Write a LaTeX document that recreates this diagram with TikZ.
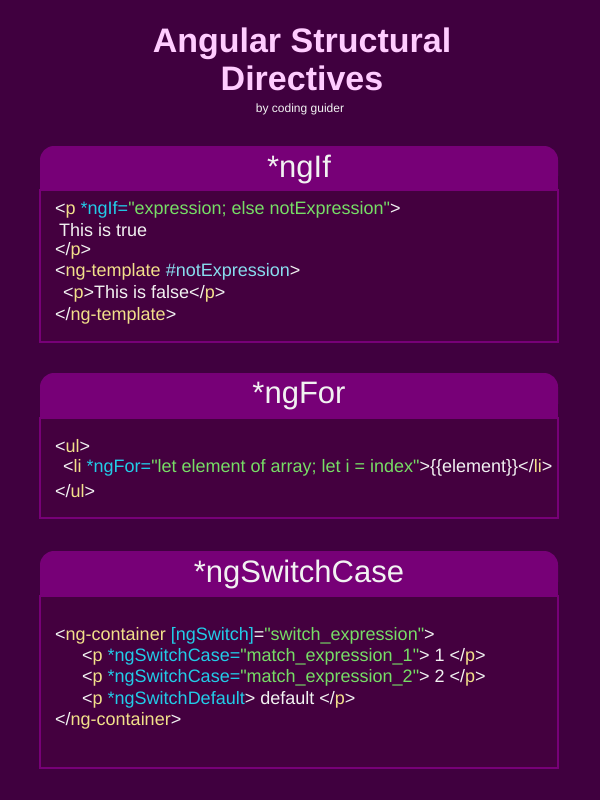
\documentclass[tikz,border=0pt]{standalone}
\usepackage{fontspec}
\setmainfont{Liberation Sans}
\definecolor{bg}{HTML}{40003F}
\definecolor{hdr}{HTML}{770077}
\definecolor{boxf}{HTML}{44003F}
\definecolor{tw}{HTML}{F2F2F2}
\definecolor{ty}{HTML}{F2E08A}
\definecolor{tc}{HTML}{22CCE8}
\definecolor{tg}{HTML}{77DD66}
\definecolor{tl}{HTML}{88DDEE}
\definecolor{pink}{HTML}{FFCCFF}
\newcommand{\Yl}[1]{\textcolor{ty}{#1}}
\newcommand{\Cy}[1]{\textcolor{tc}{#1}}
\newcommand{\Gr}[1]{\textcolor{tg}{#1}}
\newcommand{\Lc}[1]{\textcolor{tl}{#1}}
\newcommand{\qq}{\textquotedbl}
\begin{document}
\begin{tikzpicture}[x=1pt,y=-1pt,
  code/.style={anchor=west,inner sep=0pt,text=tw,font=\fontsize{18}{20}\selectfont},
  head/.style={text=tw,font=\fontsize{31}{35}\selectfont},
  panel/.style={draw=hdr,line width=1.5pt,fill=boxf},
  headbar/.style={fill=hdr,rounded corners=14pt}]
\fill[bg] (0,0) rectangle (600,800);
\useasboundingbox (0,0) rectangle (600,800);
\node[text=pink,font=\bfseries\fontsize{34}{38}\selectfont,align=center] (title) at (302,59) {Angular Structural\\Directives};
\node[text=tw,font=\fontsize{12}{14}\selectfont] (sub) at (300,109) {by coding guider};
\foreach \t/\h/\b in {146/190/342, 373/418/518, 551/596/768}{
  \draw[panel] (40,\h) rectangle (558,\b);
  \fill[headbar] (40,\h) -- (40,\t) -- (558,\t) -- (558,\h) -- cycle;
  \fill[hdr] (40,\h-12) rectangle (558,\h);
}
\node[head] (h1) at (299,169) {*ngIf};
\node[head] (h2) at (299,396) {*ngFor};
\node[head] (h3) at (299,574) {*ngSwitchCase};
% ngIf
\node[code] (a1) at (55,210) {<\Yl{p} \Cy{*ngIf=}\Gr{\qq expression; else notExpression\qq}>};
\node[code] (a2) at (59,230) {This is true};
\node[code] (a3) at (55,251) {</\Yl{p}>};
\node[code] (a4) at (55,272) {<\Yl{ng-template} \Lc{\#notExpression}>};
\node[code] (a5) at (63,294) {<\Yl{p}>This is false</\Yl{p}>};
\node[code] (a6) at (55,316) {</\Yl{ng-template}>};
% ngFor
\node[code] (b1) at (55,446) {<\Yl{ul}>};
\node[code] (b2) at (63,468) {<\Yl{li} \Cy{*ngFor=}\Gr{\qq let element of array; let i = index\qq}>\{\{element\}\}</\Yl{li}>};
\node[code] (b3) at (55,491) {</\Yl{ul}>};
% ngSwitch
\node[code] (c1) at (55,636) {<\Yl{ng-container} \Cy{[ngSwitch]}=\Gr{\qq switch\_expression\qq}>};
\node[code] (c2) at (82,657) {<\Yl{p} \Cy{*ngSwitchCase=}\Gr{\qq match\_expression\_1\qq}> 1 </\Yl{p}>};
\node[code] (c3) at (82,678) {<\Yl{p} \Cy{*ngSwitchCase=}\Gr{\qq match\_expression\_2\qq}> 2 </\Yl{p}>};
\node[code] (c4) at (82,700) {<\Yl{p} \Cy{*ngSwitchDefault}> default </\Yl{p}>};
\node[code] (c5) at (55,721) {</\Yl{ng-container}>};
\end{tikzpicture}
\end{document}
